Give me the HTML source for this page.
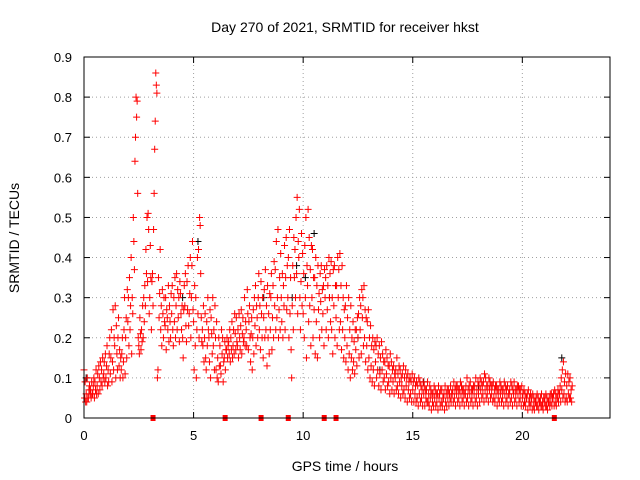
<!DOCTYPE html>
<html><head><meta charset="utf-8"><style>
html,body{margin:0;padding:0;background:#fff}
svg{display:block;font-family:"Liberation Sans",sans-serif}
</style></head><body>
<svg id="chart" width="640" height="480">
<rect width="640" height="480" fill="#fff"/>
<text x="345" y="32" font-size="14" text-anchor="middle">Day 270 of 2021, SRMTID for receiver hkst</text>
<text x="345" y="471" font-size="14" text-anchor="middle">GPS time / hours</text>
<text x="0" y="0" font-size="14" text-anchor="middle" transform="translate(19,238) rotate(-90)">SRMTID / TECUs</text>
<g id="grid"></g>
<g id="ticks"></g>
<g id="marks"></g>
<rect x="84" y="57" width="526" height="361" fill="none" stroke="#000" stroke-width="1"/>
</svg>
<script>
const xTicks=[0,5,10,15,20];
const yTicks=[0,0.1,0.2,0.3,0.4,0.5,0.6,0.7,0.8,0.9];
const yTickLabels=["0","0.1","0.2","0.3","0.4","0.5","0.6","0.7","0.8","0.9"];
const startHour=0, stepHour=0.1;
const redValues=[
[0.12,0.05,0.09,0.04],[0.06,0.04,0.1,0.05],[0.05,0.07,0.08,0.06],[0.07,0.05,0.09,0.06],[0.06,0.08,0.1,0.05],[0.09,0.07,0.12,0.06],[0.08,0.11,0.06,0.13],[0.1,0.07,0.14,0.09],[0.12,0.08,0.15,0.1],[0.11,0.14,0.09,0.16],
[0.1,0.13,0.18,0.08],[0.12,0.09,0.16,0.2],[0.11,0.15,0.22,0.09],[0.14,0.27,0.12,0.2],[0.18,0.28,0.1,0.23],[0.16,0.12,0.2,0.25],[0.13,0.17,0.1,0.15],[0.12,0.16,0.2,0.1],[0.14,0.22,0.3,0.11],[0.2,0.25,0.15,0.32],
[0.24,0.3,0.18,0.35],[0.22,0.28,0.4,0.16],[0.3,0.26,0.5,0.44],[0.37,0.64,0.7,0.8],[0.75,0.79,0.56,0.2],[0.18,0.16,0.25,0.21],[0.17,0.22,0.19,0.28],[0.2,0.3,0.24,0.33],[0.28,0.42,0.36,0.5],[0.34,0.51,0.47,0.26],
[0.3,0.43,0.35,0.22],[0.34,0.36,0.28,0.47],[0.56,0.67,0.74,0.86],[0.83,0.81,0.1,0.12],[0.35,0.25,0.31,0.42],[0.22,0.28,0.18,0.32],[0.26,0.2,0.3,0.24],[0.23,0.3,0.17,0.27],[0.25,0.22,0.33,0.19],[0.28,0.24,0.2,0.31],
[0.26,0.33,0.22,0.18],[0.3,0.24,0.35,0.2],[0.28,0.36,0.22,0.32],[0.25,0.3,0.19,0.34],[0.31,0.26,0.22,0.28],[0.2,0.15,0.27,0.33],[0.28,0.36,0.23,0.19],[0.34,0.27,0.38,0.23],[0.26,0.31,0.4,0.2],[0.3,0.38,0.44,0.27],
[0.24,0.12,0.33,0.18],[0.3,0.1,0.22,0.4],[0.26,0.42,0.2,0.5],[0.48,0.36,0.25,0.19],[0.22,0.18,0.28,0.14],[0.2,0.26,0.15,0.12],[0.24,0.18,0.3,0.22],[0.2,0.14,0.27,0.1],[0.25,0.21,0.16,0.3],[0.18,0.22,0.12,0.28],
[0.2,0.12,0.24,0.1],[0.15,0.09,0.2,0.13],[0.18,0.13,0.11,0.22],[0.16,0.2,0.09,0.14],[0.15,0.19,0.12,0.17],[0.17,0.2,0.15,0.18],[0.19,0.16,0.22,0.14],[0.2,0.17,0.24,0.15],[0.18,0.22,0.16,0.26],[0.21,0.17,0.25,0.19],
[0.18,0.22,0.15,0.26],[0.2,0.17,0.23,0.27],[0.16,0.21,0.25,0.19],[0.2,0.3,0.18,0.24],[0.22,0.18,0.32,0.26],[0.17,0.24,0.28,0.2],[0.14,0.21,0.25,0.12],[0.2,0.27,0.16,0.3],[0.23,0.33,0.18,0.28],[0.25,0.2,0.3,0.36],
[0.22,0.28,0.17,0.34],[0.26,0.2,0.3,0.15],[0.25,0.32,0.2,0.37],[0.22,0.28,0.13,0.33],[0.2,0.26,0.16,0.31],[0.22,0.3,0.36,0.17],[0.25,0.33,0.2,0.39],[0.28,0.37,0.22,0.44],[0.25,0.3,0.47,0.2],[0.27,0.35,0.22,0.41],
[0.3,0.24,0.36,0.2],[0.33,0.28,0.43,0.22],[0.35,0.45,0.27,0.38],[0.3,0.4,0.2,0.47],[0.26,0.35,0.17,0.1],[0.28,0.38,0.22,0.45],[0.35,0.42,0.3,0.5],[0.36,0.55,0.26,0.44],[0.4,0.52,0.3,0.22],[0.34,0.46,0.28,0.41],
[0.26,0.36,0.2,0.43],[0.3,0.5,0.15,0.38],[0.33,0.52,0.24,0.45],[0.28,0.37,0.18,0.43],[0.3,0.42,0.2,0.35],[0.27,0.35,0.16,0.4],[0.24,0.33,0.15,0.38],[0.27,0.31,0.2,0.36],[0.29,0.38,0.22,0.32],[0.26,0.33,0.18,0.37],
[0.3,0.35,0.22,0.38],[0.27,0.33,0.2,0.4],[0.3,0.36,0.24,0.39],[0.22,0.3,0.16,0.37],[0.28,0.38,0.2,0.33],[0.25,0.33,0.18,0.4],[0.3,0.37,0.22,0.41],[0.24,0.33,0.17,0.38],[0.22,0.3,0.15,0.27],[0.2,0.28,0.14,0.33],
[0.18,0.25,0.12,0.3],[0.16,0.22,0.1,0.28],[0.15,0.2,0.12,0.24],[0.14,0.19,0.11,0.22],[0.17,0.22,0.13,0.25],[0.2,0.26,0.15,0.3],[0.22,0.28,0.16,0.32],[0.25,0.3,0.18,0.33],[0.2,0.27,0.14,0.25],[0.18,0.24,0.12,0.27],
[0.15,0.2,0.1,0.23],[0.13,0.18,0.09,0.2],[0.12,0.17,0.08,0.19],[0.14,0.18,0.1,0.2],[0.12,0.16,0.08,0.18],[0.11,0.15,0.07,0.19],[0.12,0.16,0.09,0.14],[0.1,0.14,0.07,0.17],[0.11,0.15,0.08,0.13],[0.09,0.13,0.06,0.16],
[0.1,0.14,0.07,0.12],[0.09,0.13,0.06,0.11],[0.1,0.12,0.07,0.15],[0.08,0.11,0.06,0.13],[0.09,0.12,0.05,0.1],[0.08,0.11,0.06,0.13],[0.07,0.1,0.05,0.12],[0.08,0.1,0.04,0.11],[0.07,0.09,0.05,0.1],[0.06,0.09,0.04,0.11],
[0.07,0.09,0.04,0.1],[0.06,0.08,0.04,0.09],[0.05,0.08,0.03,0.1],[0.06,0.09,0.04,0.08],[0.05,0.07,0.03,0.09],[0.06,0.08,0.03,0.07],[0.05,0.07,0.04,0.09],[0.04,0.06,0.03,0.08],[0.05,0.07,0.02,0.06],[0.04,0.06,0.03,0.08],
[0.05,0.07,0.03,0.06],[0.04,0.06,0.02,0.08],[0.05,0.06,0.03,0.07],[0.04,0.07,0.03,0.05],[0.05,0.06,0.02,0.08],[0.04,0.06,0.03,0.07],[0.05,0.07,0.03,0.06],[0.05,0.08,0.04,0.06],[0.06,0.07,0.04,0.09],[0.05,0.07,0.03,0.08],
[0.06,0.08,0.04,0.07],[0.05,0.07,0.03,0.09],[0.06,0.08,0.04,0.07],[0.05,0.07,0.03,0.06],[0.06,0.08,0.04,0.1],[0.05,0.07,0.03,0.08],[0.06,0.09,0.04,0.07],[0.05,0.07,0.03,0.08],[0.06,0.08,0.04,0.1],[0.05,0.07,0.03,0.09],
[0.06,0.08,0.04,0.1],[0.07,0.09,0.05,0.08],[0.06,0.09,0.04,0.11],[0.07,0.1,0.05,0.08],[0.06,0.08,0.04,0.1],[0.07,0.09,0.05,0.08],[0.06,0.08,0.04,0.09],[0.05,0.07,0.04,0.08],[0.06,0.08,0.03,0.07],[0.05,0.07,0.04,0.09],
[0.06,0.08,0.04,0.07],[0.05,0.07,0.03,0.09],[0.06,0.08,0.04,0.07],[0.05,0.08,0.03,0.06],[0.06,0.07,0.04,0.09],[0.05,0.08,0.03,0.07],[0.06,0.09,0.04,0.07],[0.05,0.07,0.03,0.08],[0.06,0.08,0.04,0.07],[0.05,0.07,0.03,0.08],
[0.05,0.06,0.03,0.07],[0.04,0.06,0.03,0.05],[0.05,0.06,0.02,0.07],[0.04,0.05,0.03,0.06],[0.04,0.05,0.02,0.06],[0.03,0.05,0.02,0.04],[0.04,0.05,0.03,0.06],[0.03,0.05,0.02,0.04],[0.04,0.05,0.03,0.06],[0.03,0.04,0.02,0.05],
[0.04,0.05,0.03,0.06],[0.03,0.05,0.02,0.04],[0.04,0.05,0.03,0.06],[0.04,0.06,0.03,0.05],[0.05,0.06,0.03,0.07],[0.04,0.06,0.03,0.05],[0.05,0.07,0.04,0.06],[0.06,0.08,0.04,0.1],[0.07,0.12,0.05,0.14],[0.06,0.09,0.04,0.11],
[0.05,0.08,0.04,0.11],[0.06,0.09,0.05,0.1],[0.05,0.07,0.04,0.08]
];
const blackTimes=[0.1,4.5,5.2,8.2,9.5,9.7,10.1,10.5,11.2,12.5,13.5,15.5,18.0,21.8];
const blackValues=[0.1,0.3,0.44,0.3,0.3,0.38,0.35,0.46,0.3,0.2,0.12,0.09,0.08,0.15];
const flagTimes=[3.15,6.44,8.08,9.32,10.96,11.5,21.46];

const X0=84,X1=610,Y0=418,Y1=57,XMAX=24,YMAX=0.9;
function xs(v){return X0+(X1-X0)*v/XMAX;}
function ys(v){return Y0-(Y0-Y1)*v/YMAX;}
const NS="http://www.w3.org/2000/svg";
function mk(tag,attrs,parent){const e=document.createElementNS(NS,tag);for(const k in attrs)e.setAttribute(k,attrs[k]);parent.appendChild(e);return e;}
const grid=document.getElementById('grid'),ticks=document.getElementById('ticks'),marks=document.getElementById('marks');

xTicks.forEach(function(t){
  const x=xs(t);
  if(t>0){const g=mk('line',{x1:x,x2:x,y1:Y0,y2:Y1,stroke:'#a0a0a0','stroke-dasharray':'1,3'},grid);
  
  }
  const a=mk('line',{x1:x,x2:x,y1:Y0,y2:Y0-6,stroke:'#000'},ticks);
  
  
  const b=mk('line',{x1:x,x2:x,y1:Y1,y2:Y1+6,stroke:'#000'},ticks);
  
  
  const l=mk('text',{x:x,y:Y0+22,'font-size':13,'text-anchor':'middle'},ticks);l.textContent=String(t);
  
  
});
yTicks.forEach(function(t,i){
  const y=ys(t);
  if(t>0&&t<YMAX){const g=mk('line',{x1:X0,x2:X1,y1:y,y2:y,stroke:'#a0a0a0','stroke-dasharray':'1,3'},grid);
  
  }
  const a=mk('line',{x1:X0,x2:X0+6,y1:y,y2:y,stroke:'#000'},ticks);
  
  
  const b=mk('line',{x1:X1,x2:X1-6,y1:y,y2:y,stroke:'#000'},ticks);
  
  
  const l=mk('text',{x:X0-12,y:y+5,'font-size':13,'text-anchor':'end'},ticks);l.textContent=yTickLabels[i];
  
  
});
function plus(t,v,color,name){
  const x=xs(t),y=ys(v);
  const p=mk('path',{d:'M'+(x-3.5)+' '+y+'h7M'+x+' '+(y-3.5)+'v7',stroke:color,'stroke-width':1,fill:'none'},marks);
  
  
}
blackTimes.forEach(function(t,i){plus(t,blackValues[i],'#000','black-point');});
redValues.forEach(function(row,i){
  const t=startHour+i*stepHour;
  row.forEach(function(v,j){plus(t+j*0.025,v,'#ff0000','red-point');});
});
flagTimes.forEach(function(t){
  const r=mk('rect',{x:xs(t)-2.5,y:ys(0)-3,width:5,height:6,fill:'#ff0000'},marks);
  
  
});
</script>
</body></html>
